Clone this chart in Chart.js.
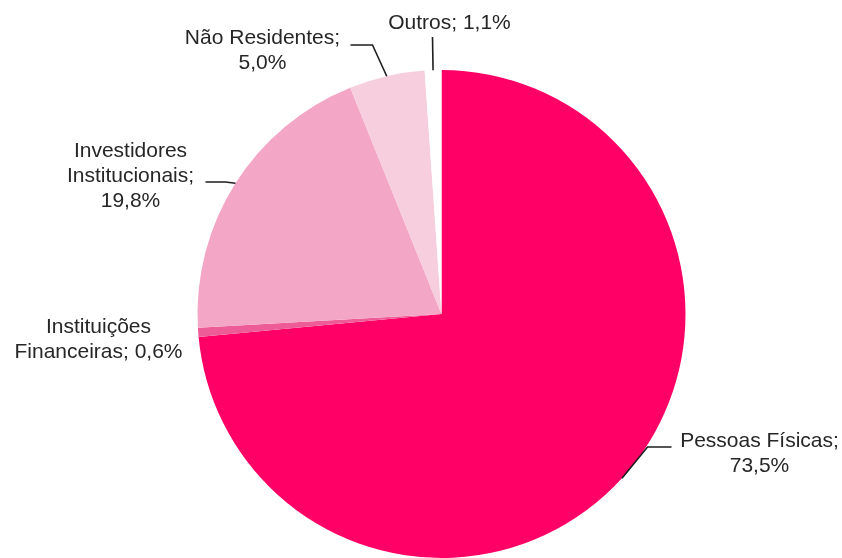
<!DOCTYPE html>
<html>
<head>
<meta charset="utf-8">
<script src="https://cdn.jsdelivr.net/npm/chart.js@4"></script>
<style>
  html, body { margin: 0; padding: 0; background: #ffffff; }
  #wrap { width: 842px; height: 558px; position: relative; }
</style>
</head>
<body>
<div id="wrap"><canvas id="c"></canvas></div>
<script>
// ---- data ----
const categories = ["Pessoas Físicas", "Instituições Financeiras", "Investidores Institucionais", "Não Residentes", "Outros"];
const shares = [73.5, 0.6, 19.8, 5.0, 1.1];
const labelLines = [
  ["Pessoas Físicas;", "73,5%"],
  ["Instituições", "Financeiras; 0,6%"],
  ["Investidores", "Institucionais;", "19,8%"],
  ["Não Residentes;", "5,0%"],
  ["Outros; 1,1%"]
];
const sliceColors = ["#FF0066", "#EE5C98", "#F4A6C6", "#F7CEDD", "#FFFFFF"];

// ---- label layout (offsets from pie centre, px; leader elbow points relative to centre) ----
const labelLayout = [
  { tx: 318, ty: 138, elbow: [[206, 133], [230, 133]] },
  { tx: -343, ty: 23.5, elbow: null },
  { tx: -311, ty: -140, elbow: [[-216, -132], [-236, -132]] },
  { tx: -179, ty: -265, elbow: [[-69, -269], [-91, -269]] },
  { tx: 8, ty: -292.5, elbow: [[-9, -277]] }
];

const labelPlugin = {
  id: 'pieLabels',
  afterDatasetsDraw(chart) {
    const ctx = chart.ctx;
    const meta = chart.getDatasetMeta(0);
    ctx.save();
    ctx.font = '21px "Liberation Sans", Arial, sans-serif';
    ctx.fillStyle = '#262626';
    ctx.strokeStyle = '#1e1e1e';
    ctx.lineWidth = 1.6;
    ctx.textAlign = 'center';
    ctx.textBaseline = 'alphabetic';
    meta.data.forEach((arc, i) => {
      const cx = arc.x, cy = arc.y, r = arc.outerRadius;
      const mid = (arc.startAngle + arc.endAngle) / 2;
      const ex = cx + Math.cos(mid) * r, ey = cy + Math.sin(mid) * r;
      const L = labelLayout[i];
      if (L.elbow) {
        ctx.beginPath();
        ctx.moveTo(ex, ey);
        L.elbow.forEach(p => ctx.lineTo(cx + p[0], cy + p[1]));
        ctx.stroke();
      }
      const lines = labelLines[i];
      const lh = 25;
      const top = cy + L.ty - (lines.length - 1) * lh / 2;
      lines.forEach((t, k) => {
        ctx.fillText(t, cx + L.tx, top + k * lh + 7.5);
      });
    });
    ctx.restore();
  }
};

new Chart(document.getElementById('c'), {
  type: 'pie',
  data: {
    labels: categories,
    datasets: [{
      data: shares,
      backgroundColor: sliceColors,
      borderWidth: 0
    }]
  },
  options: {
    responsive: true,
    maintainAspectRatio: false,
    animation: false,
    layout: { padding: { left: 197, right: 156, top: 70, bottom: 0 } },
    plugins: { legend: { display: false }, tooltip: { enabled: false } }
  },
  plugins: [labelPlugin]
});
</script>
</body>
</html>
